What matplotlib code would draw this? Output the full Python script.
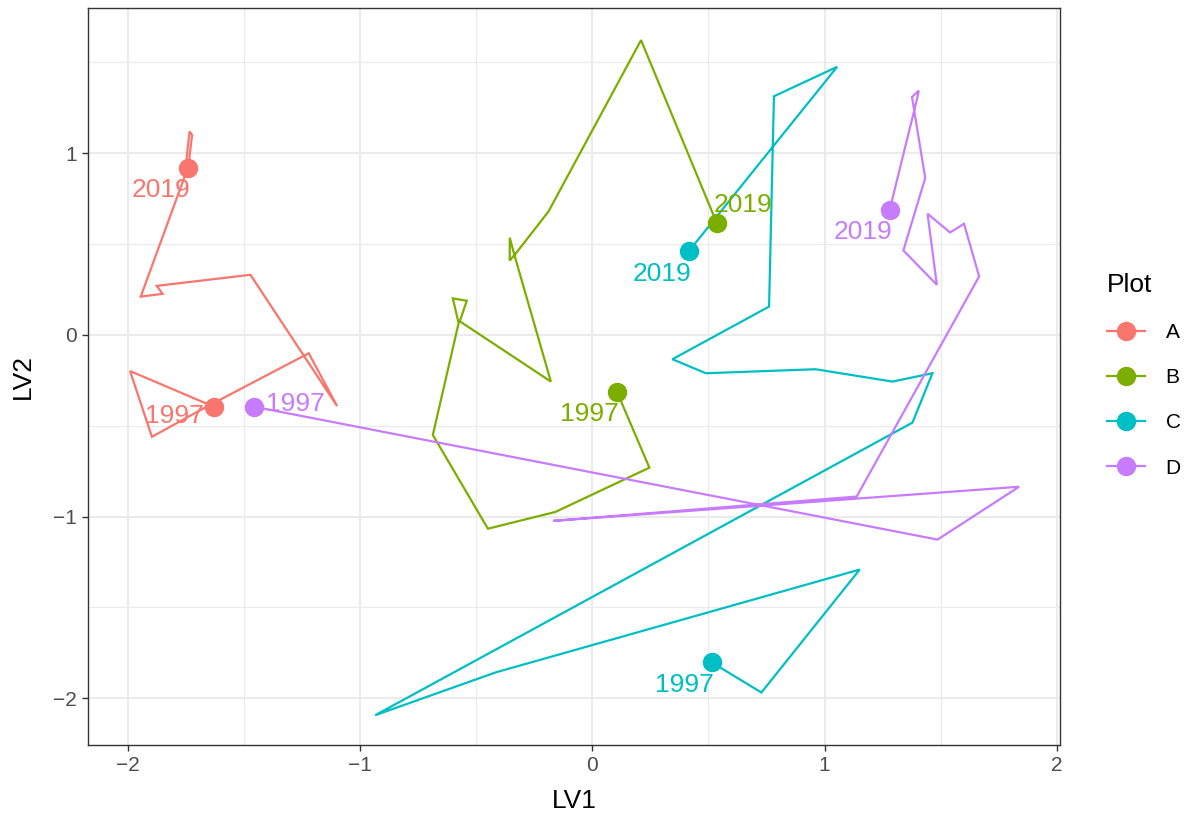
import matplotlib
matplotlib.use("Agg")
import matplotlib.pyplot as plt
from matplotlib.lines import Line2D

plt.rcParams['font.family'] = ['Liberation Sans', 'DejaVu Sans']

# ---- data (LV1, LV2 trajectories, 1997 -> 2019) ----
plots = ["A", "B", "C", "D"]
colors = ["#F8766D", "#7CAE00", "#00BFC4", "#C77CFF"]

A_lv1 = [-1.629, -1.989, -1.895, -1.672, -1.220, -1.098, -1.471, -1.874, -1.849,
         -1.943, -1.754, -1.745, -1.733, -1.722, -1.739]
A_lv2 = [-0.395, -0.199, -0.561, -0.404, -0.101, -0.392, 0.331, 0.270, 0.226,
         0.211, 0.872, 0.980, 1.120, 1.100, 0.921]

B_lv1 = [0.106, 0.246, -0.159, -0.449, -0.686, -0.575, -0.600, -0.540, -0.570,
         -0.178, -0.335, -0.355, -0.355, -0.325, -0.188, 0.210, 0.536]
B_lv2 = [-0.312, -0.731, -0.975, -1.067, -0.551, 0.065, 0.201, 0.188, 0.075,
         -0.257, 0.440, 0.535, 0.410, 0.455, 0.680, 1.623, 0.616]

C_lv1 = [0.514, 0.728, 1.151, -0.415, -0.934, 1.378, 1.464, 1.292, 0.961,
         0.489, 0.345, 0.761, 0.782, 1.054, 0.415]
C_lv2 = [-1.803, -1.969, -1.292, -1.858, -2.094, -0.483, -0.211, -0.257, -0.189,
         -0.211, -0.134, 0.156, 1.314, 1.476, 0.460]

D_lv1 = [-1.457, 1.486, 1.837, -0.169, 1.138, 1.665, 1.600, 1.540, 1.443,
         1.483, 1.339, 1.433, 1.376, 1.405, 1.398, 1.280]
D_lv2 = [-0.395, -1.127, -0.836, -1.024, -0.890, 0.322, 0.612, 0.564, 0.667,
         0.276, 0.465, 0.864, 1.310, 1.345, 1.300, 0.689]

series_x = [A_lv1, B_lv1, C_lv1, D_lv1]
series_y = [A_lv2, B_lv2, C_lv2, D_lv2]
end_labels = ["1997", "2019"]

x_ticks = [-2, -1, 0, 1, 2]
y_ticks = [-2, -1, 0, 1]

# ---- label offsets (points), layout only ----
default_off = (-19.4, -21.2)
label_offsets = {("A", "1997"): (-28.1, -11.9),
                 ("D", "1997"): (30.2, -3.2),
                 ("B", "2019"): (18.7, 7.6)}

fig = plt.figure(figsize=(11.91, 8.18), dpi=100)
ax = fig.add_axes([88/1191, 1-745/818, (1060-88)/1191, (745-8)/818])

for name, col, xs, ys in zip(plots, colors, series_x, series_y):
    ax.plot(xs, ys, color=col, lw=1.6, zorder=3, solid_joinstyle='miter')
    for idx, lab in zip([0, -1], end_labels):
        ax.plot(xs[idx], ys[idx], 'o', color=col, ms=14, mec='none', zorder=4)
        off = label_offsets.get((name, lab), default_off)
        ax.annotate(lab, (xs[idx], ys[idx]), xytext=off, textcoords='offset points',
                    ha='center', va='baseline', color=col, fontsize=19, zorder=5)

ax.set_xlim(-2.170, 2.013)
ax.set_ylim(-2.258, 1.800)
ax.set_xticks(x_ticks)
ax.set_yticks(y_ticks)
ax.set_xticks([-1.5, -0.5, 0.5, 1.5], minor=True)
ax.set_yticks([-1.5, -0.5, 0.5, 1.5], minor=True)
ax.set_xticklabels([f"\u2212{abs(v)}" if v < 0 else str(v) for v in x_ticks])
ax.set_yticklabels([f"\u2212{abs(v)}" if v < 0 else str(v) for v in y_ticks])
ax.grid(True, which='major', color='#EBEBEB', lw=1.5, zorder=0)
ax.grid(True, which='minor', color='#EBEBEB', lw=0.9, zorder=0)
ax.set_axisbelow(True)
ax.tick_params(axis='both', which='major', colors='#333333', labelcolor='#4D4D4D',
               labelsize=15, length=4, width=1, pad=4)
ax.tick_params(axis='both', which='minor', length=0)
for s in ax.spines.values():
    s.set_color('#333333')
    s.set_linewidth(1.0)

ax.set_xlabel("LV1", fontsize=19, labelpad=10)
ax.set_ylabel("LV2", fontsize=19, labelpad=13)

handles = [Line2D([0], [0], color=c, lw=1.6, marker='o', ms=14, mec='none') for c in colors]
leg = fig.legend(handles, plots, title="Plot", loc='upper left',
                 bbox_to_anchor=(1099/1191, 1-265/818), frameon=False,
                 fontsize=15, title_fontsize=19, handlelength=1.8,
                 labelspacing=1.25, handletextpad=1.0, borderaxespad=0)
leg._legend_box.align = "left"

fig.savefig("out.png", dpi=100)
